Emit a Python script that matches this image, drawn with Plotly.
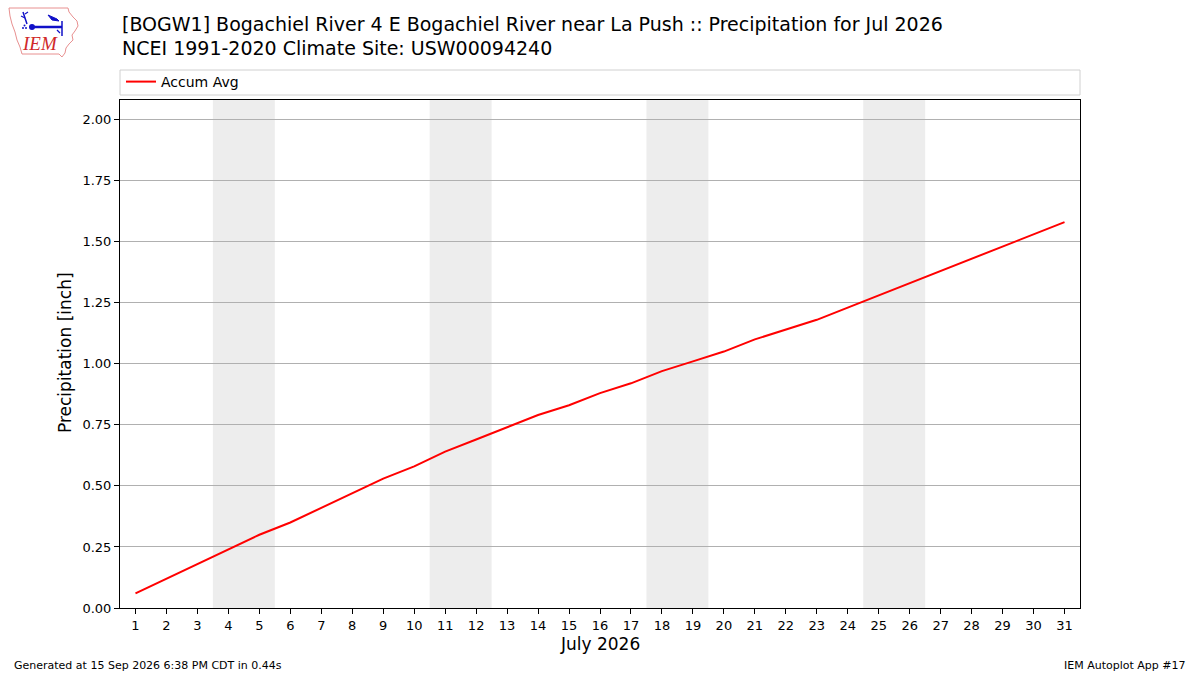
import plotly.graph_objects as go

# ---- data ----
days = list(range(1, 32))
accum_avg = [0.06, 0.12, 0.18, 0.24, 0.30, 0.35, 0.41, 0.47, 0.53, 0.58,
             0.64, 0.69, 0.74, 0.79, 0.83, 0.88, 0.92, 0.97, 1.01, 1.05,
             1.10, 1.14, 1.18, 1.23, 1.28, 1.33, 1.38, 1.43, 1.48, 1.53, 1.58]
weekends = [(4, 5), (11, 12), (18, 19), (25, 26)]
ytick_vals = [0.0, 0.25, 0.5, 0.75, 1.0, 1.25, 1.5, 1.75, 2.0]

title1 = "[BOGW1] Bogachiel River 4 E Bogachiel River near La Push :: Precipitation for Jul 2026"
title2 = "NCEI 1991-2020 Climate Site: USW00094240"

W, H = 1200, 675
L, R, T, B = 120, 1080, 100, 608
FONT = "DejaVu Sans"
BLUE = "#1010c8"


def px(x, y):
    return (x - L) / (R - L), (B - y) / (B - T)


fig = go.Figure()
fig.add_trace(go.Scatter(x=days, y=accum_avg, mode="lines", name="Accum Avg",
                         line=dict(color="red", width=2)))

shapes = []
for a, b in weekends:
    shapes.append(dict(type="rect", xref="x", yref="paper", x0=a - 0.5, x1=b + 0.5,
                       y0=0, y1=1, fillcolor="#ededed", line=dict(width=0), layer="below"))

# legend frame
x0, y0 = px(120, 95)
x1, y1 = px(1080, 70)
shapes.append(dict(type="rect", xref="paper", yref="paper", x0=x0, y0=y0, x1=x1, y1=y1,
                   line=dict(color="#d0d0d0", width=1), fillcolor="white", layer="below"))


def path(points, close=True):
    s = ""
    for i, (x, y) in enumerate(points):
        X, Y = px(x, y)
        s += ("M" if i == 0 else "L") + f"{X:.5f},{Y:.5f} "
    return s + ("Z" if close else "")


def seg(points, width=1.5, color=BLUE, close=False, fill=None):
    d = dict(type="path", xref="paper", yref="paper", path=path(points, close),
             line=dict(color=color, width=width))
    if fill:
        d["fillcolor"] = fill
    return d


# logo: Iowa outline
iowa = [(9, 8), (68, 8), (69, 12), (73, 17), (77, 21), (78, 26), (75, 31), (72, 35),
        (73, 40), (69, 44), (66, 48), (65, 53), (62, 57), (59, 54), (22, 54),
        (20, 47), (17, 40), (15, 32), (12, 24), (10, 16)]
shapes.append(seg(iowa, width=1, color="#e89090", close=True))
# blue symbol
shapes.append(seg([(32, 27), (62, 27)], width=2.5))
shapes.append(seg([(27, 24), (25, 18), (23, 12)], width=1.5))
shapes.append(seg([(25, 18), (21, 16)], width=1.2))
shapes.append(seg([(25, 14), (28, 12)], width=1.2))
shapes.append(seg([(62, 21), (62, 36)], width=1.5))
shapes.append(seg([(57, 30), (60, 33)], width=1.2))
shapes.append(seg([(48, 15), (57, 19), (59, 21), (52, 20)], width=1, close=True, fill=BLUE))
for (dx, dy, r) in [(32, 27, 3), (23, 28, 1), (26, 28, 1), (24.5, 25.5, 1)]:
    ax0, ay0 = px(dx - r, dy + r)
    ax1, ay1 = px(dx + r, dy - r)
    shapes.append(dict(type="circle", xref="paper", yref="paper", x0=ax0, y0=ay0,
                       x1=ax1, y1=ay1, fillcolor=BLUE, line=dict(width=0)))

annotations = []
ax, ay = px(40, 44)
annotations.append(dict(text="<i>IEM</i>", x=ax, y=ay, xref="paper", yref="paper",
                        showarrow=False, font=dict(family="Liberation Serif", size=19, color="#d02828"),
                        xanchor="center", yanchor="middle"))
for txt, yy in [(title1, 24), (title2, 48)]:
    X, Y = px(120, yy)
    annotations.append(dict(text=txt, x=X, y=Y, xref="paper", yref="paper", showarrow=False,
                            xanchor="left", yanchor="middle",
                            font=dict(family=FONT, size=19, color="black")))
X, Y = px(65, 353)
annotations.append(dict(text="Precipitation [inch]", x=X, y=Y, xref="paper", yref="paper",
                        showarrow=False, textangle=-90, xanchor="center", yanchor="middle",
                        font=dict(family=FONT, size=17, color="black")))
X, Y = px(600, 644)
annotations.append(dict(text="July 2026", x=X, y=Y, xref="paper", yref="paper",
                        showarrow=False, xanchor="center", yanchor="middle",
                        font=dict(family=FONT, size=17, color="black")))
X, Y = px(12, 665)
annotations.append(dict(text="Generated at 15 Sep 2026 6:38 PM CDT in 0.44s", x=X, y=Y,
                        xref="paper", yref="paper", showarrow=False, xanchor="left",
                        yanchor="middle", font=dict(family=FONT, size=11, color="black")))
X, Y = px(1188, 665)
annotations.append(dict(text="IEM Autoplot App #17", x=X, y=Y,
                        xref="paper", yref="paper", showarrow=False, xanchor="right",
                        yanchor="middle", font=dict(family=FONT, size=11, color="black")))

lx, ly = px(121, 82)
fig.update_layout(
    width=W, height=H,
    margin=dict(l=L, r=W - R, t=T, b=H - B, pad=0),
    paper_bgcolor="white", plot_bgcolor="white",
    font=dict(family=FONT, size=13, color="black"),
    showlegend=True,
    legend=dict(x=lx, y=ly, xanchor="left", yanchor="middle", bgcolor="rgba(0,0,0,0)",
                borderwidth=0, font=dict(family=FONT, size=14)),
    shapes=shapes, annotations=annotations,
    xaxis=dict(range=[0.5, 31.5], tickmode="array", tickvals=days,
               ticktext=[str(d) for d in days], showgrid=False, zeroline=False,
               showline=True, linecolor="black", linewidth=1, mirror=True,
               ticks="outside", ticklen=5, tickcolor="black",
               tickfont=dict(family=FONT, size=13)),
    yaxis=dict(range=[0, 2.08], tickmode="array", tickvals=ytick_vals,
               tickformat=".2f", showgrid=True, gridcolor="#b0b0b0", gridwidth=1,
               zeroline=False, showline=True, linecolor="black", linewidth=1, mirror=True,
               ticks="outside", ticklen=5, tickcolor="black",
               tickfont=dict(family=FONT, size=13)),
)

fig.write_html("out.html", config={"displayModeBar": False},
               post_script="document.body.style.margin='0';document.body.style.overflow='hidden';")
